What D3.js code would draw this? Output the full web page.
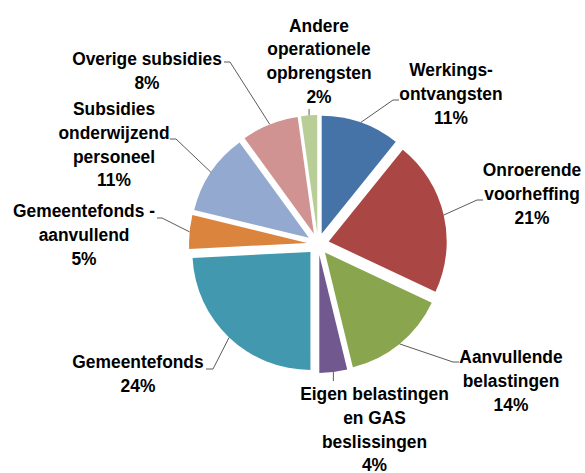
<!DOCTYPE html>
<html>
<head>
<meta charset="utf-8">
<script src="https://cdn.jsdelivr.net/npm/d3@7"></script>
<style>
  html, body { margin: 0; padding: 0; background: #ffffff; }
  svg { display: block; }
  .lbl { font-family: "Liberation Sans", Arial, sans-serif; font-weight: bold; font-size: 18.5px; fill: #000; }
</style>
</head>
<body>
<svg id="chart" width="585" height="473"></svg>
<script>
// ---- data ----
const categories = [
  "Werkings-ontvangsten",
  "Onroerende voorheffing",
  "Aanvullende belastingen",
  "Eigen belastingen en GAS beslissingen",
  "Gemeentefonds",
  "Gemeentefonds - aanvullend",
  "Subsidies onderwijzend personeel",
  "Overige subsidies",
  "Andere operationele opbrengsten"
];
const values = [10.8, 21.2, 14.2, 3.8, 24.2, 4.6, 11.2, 7.8, 2.2];
const percentLabels = ["11%", "21%", "14%", "4%", "24%", "5%", "11%", "8%", "2%"];
const labelLines = [
  ["Werkings-", "ontvangsten"],
  ["Onroerende", "voorheffing"],
  ["Aanvullende", "belastingen"],
  ["Eigen belastingen", "en GAS", "beslissingen"],
  ["Gemeentefonds"],
  ["Gemeentefonds -", "aanvullend"],
  ["Subsidies", "onderwijzend", "personeel"],
  ["Overige subsidies"],
  ["Andere", "operationele", "opbrengsten"]
];
const colors = ["#4572A7", "#AA4643", "#89A54E", "#71588F", "#4198AF", "#DB843D", "#93A9CF", "#D19392", "#B9CD96"];

// ---- layout ----
const cx = 318, cy = 244, radius = 118, explode = 11;
const lineH = 23.8, sx = 0.94;
// label block: center x, first baseline y
const labelPos = [
  [451, 76], [532, 176], [511, 363], [374.5, 400], [138, 368],
  [84, 217], [114, 115], [147, 65], [319, 31.5]
];
// leader elbow and end points (next to label text)
const leaderEnds = [
  [[393, 100], [399, 100]],
  [[477, 200], [483, 200]],
  [[453, 362], [459, 362]],
  [[null, 381], [null, 381]],
  [[213, 369], [206, 369]],
  [[162, 218], [157, 218]],
  [[176, 139], [170, 139]],
  [[230, 62], [224, 62]],
  [[null, 109], [null, 109]]
];

const svg = d3.select("#chart");
const pie = d3.pie().sort(null).value(d => d).startAngle(0).endAngle(2 * Math.PI);
const arcs = pie(values);
const arcGen = d3.arc().innerRadius(0).outerRadius(radius);

const g = svg.append("g").attr("transform", `translate(${cx},${cy})`);

arcs.forEach((a, i) => {
  const mid = (a.startAngle + a.endAngle) / 2;
  const ox = explode * Math.sin(mid), oy = -explode * Math.cos(mid);
  g.append("path")
    .attr("d", arcGen(a))
    .attr("transform", `translate(${ox},${oy})`)
    .attr("fill", colors[i]);

  // leader line from outer arc midpoint
  const px = cx + ox + radius * Math.sin(mid);
  const py = cy + oy - radius * Math.cos(mid);
  const [e1, e2] = leaderEnds[i];
  const p1 = [e1[0] === null ? px : e1[0], e1[1]];
  const p2 = [e2[0] === null ? px : e2[0], e2[1]];
  svg.append("path")
    .attr("d", d3.line()([[px, py], p1, p2]))
    .attr("fill", "none")
    .attr("stroke", "#5a5a5a")
    .attr("stroke-width", 1);
});

// labels
categories.forEach((c, i) => {
  const lines = labelLines[i].concat([percentLabels[i]]);
  const lg = svg.append("g")
    .attr("transform", `translate(${labelPos[i][0]},${labelPos[i][1]}) scale(${sx},1)`);
  lines.forEach((t, j) => {
    lg.append("text")
      .attr("class", "lbl")
      .attr("x", 0)
      .attr("y", j * lineH)
      .attr("text-anchor", "middle")
      .text(t);
  });
});
</script>
</body>
</html>
